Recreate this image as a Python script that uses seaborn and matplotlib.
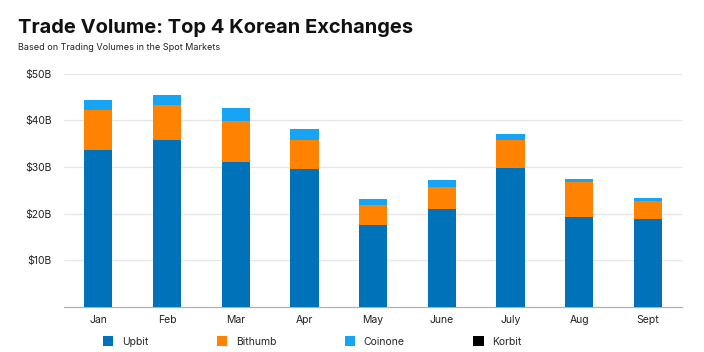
import numpy as np
import pandas as pd
import seaborn as sns
import matplotlib.pyplot as plt
from matplotlib.patches import Patch

# Monthly spot volumes, billions of USD
months = ["Jan", "Feb", "Mar", "Apr", "May", "June", "July", "Aug", "Sept"]
upbit = [33.7, 35.9, 31.1, 29.6, 17.5, 20.9, 29.7, 19.3, 18.8]
bithumb = [8.6, 7.5, 8.8, 6.3, 4.3, 4.7, 6.1, 7.4, 3.8]
coinone = [2.0, 2.1, 2.7, 2.2, 1.3, 1.5, 1.3, 0.7, 0.7]
korbit = [0.02, 0.02, 0.02, 0.02, 0.01, 0.01, 0.01, 0.01, 0.01]

exchanges = ["Upbit", "Bithumb", "Coinone", "Korbit"]
colors = {"Upbit": "#0072b9", "Bithumb": "#ff8300", "Coinone": "#17a4f4", "Korbit": "#000000"}

df = pd.DataFrame({"month": months, "Upbit": upbit, "Bithumb": bithumb,
                   "Coinone": coinone, "Korbit": korbit})
# cumulative tops for stacking
cum = df[exchanges].cumsum(axis=1)
cum["month"] = df["month"]

sns.set_style("white")
plt.rcParams["font.family"] = ["Inter", "DejaVu Sans"]

fig = plt.figure(figsize=(7.04, 3.52), dpi=100)
ax = fig.add_axes([0.091, 0.129, 0.878, 0.661])

# draw highest layer first so lower layers sit over it
for ex in reversed(exchanges):
    sns.barplot(data=cum, x="month", y=ex, color=colors[ex], width=0.41,
                saturation=1, linewidth=0, ax=ax, zorder=3)

ax.set_ylim(0, 50)
ax.set_xlim(-0.5, len(months) - 0.5)
ax.set_yticks([10, 20, 30, 40, 50])
ax.set_yticklabels(["$10B", "$20B", "$30B", "$40B", "$50B"])
ax.yaxis.grid(True, color="#e6e6e6", linewidth=0.9, zorder=0)
ax.set_axisbelow(True)
ax.set_xlabel("")
ax.set_ylabel("")
for s in ["top", "right", "left"]:
    ax.spines[s].set_visible(False)
ax.spines["bottom"].set_color("#b0b0b0")
ax.spines["bottom"].set_linewidth(0.9)
ax.tick_params(axis="both", length=0, labelsize=7.5, colors="#222222")
ax.tick_params(axis="y", pad=9)
ax.tick_params(axis="x", pad=6)

fig.text(0.026, 0.905, "Trade Volume: Top 4 Korean Exchanges", fontsize=14.5,
         fontweight="bold", color="#111111")
fig.text(0.026, 0.858, "Based on Trading Volumes in the Spot Markets", fontsize=6.5,
         color="#222222")

handles = [Patch(facecolor=colors[ex], edgecolor="none") for ex in exchanges]
fig.legend(handles, exchanges, loc="center left", bbox_to_anchor=(0.133, 0.03),
           ncol=4, frameon=False, fontsize=7.5, handlelength=1.0, handleheight=1.0,
           handletextpad=0.8, columnspacing=6.6)

fig.savefig("out.png", dpi=100)
